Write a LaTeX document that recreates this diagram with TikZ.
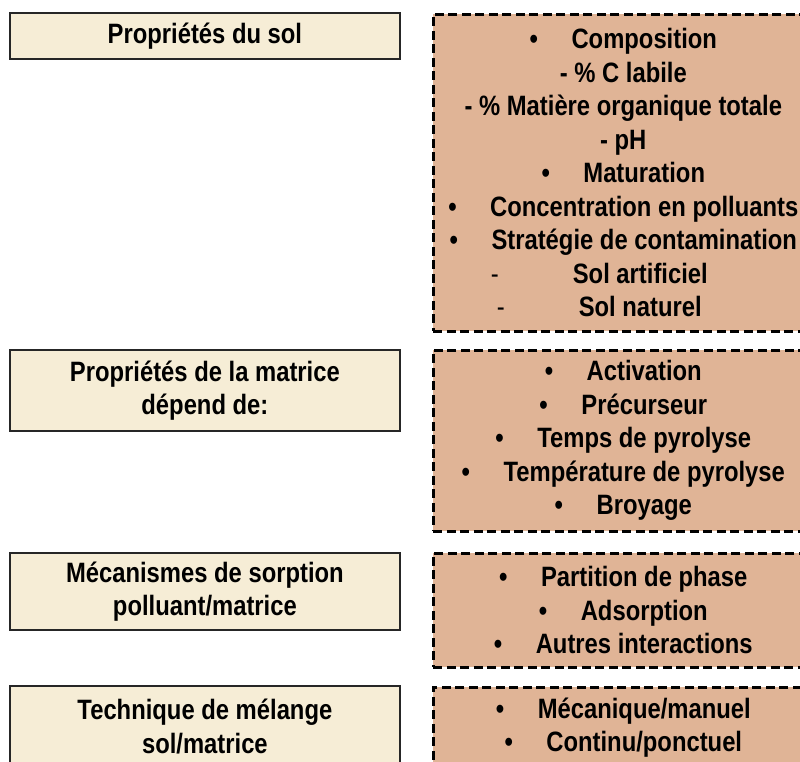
\documentclass[tikz,border=0pt]{standalone}
\usepackage{fontspec}
\setmainfont{Liberation Sans}[FakeStretch=0.85]
\usetikzlibrary{positioning}
\definecolor{soilbeige}{RGB}{246,237,214}
\definecolor{boxtan}{RGB}{224,180,150}
\newcommand{\itm}{\textbullet\hspace{1.2em}}
\newcommand{\dsh}{\hspace*{34pt}\llap{{\mdseries -}\hspace{74pt}}}

\begin{document}
\begin{tikzpicture}[x=1pt,y=-1pt,
	leftbox/.style={draw=black!85, line width=1.8pt, fill=soilbeige, anchor=north west,
		minimum width=390pt, inner sep=0pt, align=center,
		font=\bfseries\fontsize{28}{33.5}\selectfont},
	rightbox/.style={draw=black, line width=2.6pt, dash pattern=on 9pt off 4.5pt,
		fill=boxtan, anchor=north west, minimum width=380pt, inner sep=0pt,
		align=center, font=\bfseries\fontsize{28}{33.5}\selectfont}]
	\useasboundingbox (0,0) rectangle (800,762);
	\clip (0,0) rectangle (800,762);

	% left column
	\node[leftbox, minimum height=46pt] (sol) at (9,12) {Propriétés du sol};
	\node[leftbox, minimum height=81pt] (matrice) at (9,349) {Propriétés de la matrice\\dépend de:};
	\node[leftbox, minimum height=77pt] (sorption) at (9,552) {Mécanismes de sorption\\polluant/matrice};
	\node[leftbox, minimum height=81pt] (melange) at (9,685) {Technique de mélange\\sol/matrice};

	% right column
	\node[rightbox, minimum height=317pt] (solD) at (432,13) {\itm Composition\\- \% C labile\\- \% Matière organique totale\\- pH\\\itm Maturation\\\itm Concentration en polluants\\\itm Stratégie de contamination\\\dsh Sol artificiel\\\dsh Sol naturel};
	\node[rightbox, minimum height=181pt] (matriceD) at (432,349) {\itm Activation\\\itm Précurseur\\\itm Temps de pyrolyse\\\itm Température de pyrolyse\\\itm Broyage};
	\node[rightbox, minimum height=114pt] (sorptionD) at (432,552) {\itm Partition de phase\\\itm Adsorption\\\itm Autres interactions};
	\node[rightbox, minimum height=81pt] (melangeD) at (432,686) {\itm Mécanique/manuel\\\itm Continu/ponctuel};
\end{tikzpicture}
\end{document}
